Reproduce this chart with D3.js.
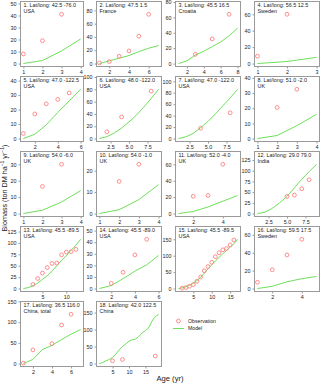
<!DOCTYPE html>
<html><head><meta charset="utf-8">
<script src="https://cdn.jsdelivr.net/npm/d3@7"></script>
<style>body{margin:0;background:#fff}svg{display:block}</style>
</head><body><svg id="c" width="320" height="384"></svg>
<script>
const panelTitles = [
 "1. Lat/long: 42.5 -76.0","2. Lat/long: 47.5 1.5","3. Lat/long: 45.5 16.5","4. Lat/long: 56.5 12.5",
 "5. Lat/long: 47.0 -122.5","6. Lat/long: 48.0 -122.0","7. Lat/long: 47.0 -122.0","8. Lat/long: 51.0 -2.0",
 "9. Lat/long: 54.0 -6.0","10. Lat/long: 54.0 -1.0","11. Lat/long: 52.0 -4.0","12. Lat/long: 29.0 79.0",
 "13. Lat/long: 45.5 -89.5","14. Lat/long: 45.5 -89.0","15. Lat/long: 45.5 -89.5","16. Lat/long: 59.5 17.5",
 "17. Lat/long: 36.5 116.0","18. Lat/long: 42.0 122.5"];
const panelRegions = ["USA","France","Croatia","Sweden","USA","USA","USA","UK","UK","UK","UK","India",
 "USA","USA","USA","Sweden","China, total","China"];
const xTickLabels = [
 ["1","2","3","4"],["2","4","6"],["2","4","6","8"],["1","2","3"],
 ["2","4","6"],["2.5","5.0","7.5"],["2.5","5.0","7.5"],["1","2","3","4"],
 ["1","2","3","4"],["1","2","3","4"],["2","4"],["2.5","5.0","7.5"],
 ["5","10"],["2","4","6"],["5","10","15"],["2","4"],
 ["2","4","6"],["5","10","15"]];
const yTickLabels = [
 ["0","10","20","30","40","50"],["0","20","40","60","80"],["0","20","40","60","80"],["0","20","40","60"],
 ["0","10","20","30","40"],["0","20","40","60","80","100"],["0","20","40","60","80","100"],["0","10","20","30","40"],
 ["0","10","20","30"],["0","10","20"],["0","20","40","60"],["0","25","50","75","100","125"],
 ["0","25","50","75","100","125"],["0","10","20","30","40","50"],["0","50","100","150"],["0","20","40","60"],
 ["0","50","100","150"],["0","50","100","150"]];
const observations = [
 [[1,8],[2,19],[3,41]],
 [[1,1],[2,3],[3,11],[4,19],[5,41],[6,74]],
 [[3,12],[5,32],[7,64]],
 [[1,9],[2,60]],
 [[1,3.5],[2,17],[3,24],[4,27],[5,31.5]],
 [[2,11],[4,35],[8,77]],
 [[4,18],[8,45]],
 [[2,20.5],[3,32.5]],
 [[2,16.5],[3,30]],
 [[2,15],[3,23]],
 [[2,21],[3,22],[4,60]],
 [[5,40],[6,43],[7,58],[8,79]],
 [[3,9],[4,22],[5,34],[6,46],[7,55],[8,56],[9,74],[10,80],[11,81],[12,86]],
 [[2,4.5],[3,14],[4,29],[5,42.5]],
 [[2,1],[3,3],[4,7],[5,12],[6,22],[7,35],[8,54],[9,67],[10,80],[11,97],[12,109],[13,118],[14,122],[15,133],[16,148]],
 [[1,7],[2,21],[3,37.5],[4,55]],
 [[1,1],[2,33],[4,48],[5,93],[6,119]],
 [[5,8],[8,12],[18,22]]];
const model = [
 [[1,0],[2,2.5],[3,10.5],[4,20.5]],
 [[1,0],[2,4],[3,8],[4,12],[5,18],[6,23],[7,27]],
 [[1,0],[2,3.5],[3,11],[4,16],[5,22],[6,28],[7,36],[8,46]],
 [[1,0],[2,2.5],[3,7.5]],
 [[1,0],[2,3],[3,9.5],[4,18],[5,26],[6,34]],
 [[1,0],[2,3],[3,9],[4,17],[5,27],[6,38],[7,51],[8,65],[9,80]],
 [[1,0],[2,3],[3,9],[4,19],[5,30],[6,43],[7,57],[8,71],[9,86]],
 [[1,0],[2,2],[3,8.5],[4,16]],
 [[1,0],[2,2],[3,7],[4,14]],
 [[1,0],[2,1.8],[3,6.5],[4,13.5]],
 [[1,0],[2,2.5],[3,8],[4,15],[5,22]],
 [[1,0],[2,3],[3,12],[4,25],[5,40],[6,60],[7,80],[8,98],[9,115]],
 [[1,0],[2,2],[3,6],[4,12],[5,20],[6,28],[7,38],[8,50],[9,62],[10,72],[11,84],[12,95],[13,108]],
 [[1,0],[2,2.6],[3,8.5],[4,15],[5,20.5],[6,28.5]],
 [[1,0],[2,2],[3,5],[4,10],[5,16],[6,24],[7,34],[8,47],[9,60],[10,72],[11,84],[12,95],[13,106],[14,116],[15,126],[16,136],[17,150]],
 [[1,0],[2,2.5],[3,7.5],[4,11],[5,13.5]],
 [[1,0],[2,10],[3,34],[4,44],[5,58],[6,71],[7,82]],
 [[1,0],[2,3],[3,8],[4,12],[5,18],[6,28],[7,40],[8,50],[9,57],[10,66],[11,70],[12,72],[13,80],[14,90],[15,97],[16,105],[17,125],[18,138],[19,145]]];

const colLeft=[20.5,96.5,175.5,254.5], colRight=[83.5,161.5,240.5,319.5];
const rowTop=[1.5,76.5,151.5,226.5,301.5], panelH=65;
const FONT="'Liberation Sans', Arial, Helvetica, sans-serif";
const OBS="#ff8080", MOD="#6ee05a", FRAME="#9a9a9a", TXT="#222";
const svg=d3.select("#c").attr("font-family",FONT);

panelTitles.forEach((title,i)=>{
  const r=Math.floor(i/4), c=i%4;
  const L=colLeft[c], R=colRight[c], T=rowTop[r], B=T+panelH;
  const allX=observations[i].map(d=>d[0]).concat(model[i].map(d=>d[0]));
  const allY=observations[i].map(d=>d[1]).concat(model[i].map(d=>d[1]));
  const x0=d3.min(allX), x1=d3.max(allX), px=(x1-x0)*0.05;
  const yt=1.2*d3.max(allY), py=yt*0.05;
  const x=d3.scaleLinear().domain([x0-px,x1+px]).range([L,R]);
  const y=d3.scaleLinear().domain([-py,yt+py]).range([B,T]);
  const g=svg.append("g");
  const xt=xTickLabels[i], ytl=yTickLabels[i];
  const ax=g.append("g").attr("transform",`translate(0,${B})`)
    .call(d3.axisBottom(x).tickValues(xt.map(Number)).tickFormat((d,k)=>xt[k]).tickSize(2).tickPadding(1.2).tickSizeOuter(0));
  const ay=g.append("g").attr("transform",`translate(${L},0)`)
    .call(d3.axisLeft(y).tickValues(ytl.map(Number)).tickFormat((d,k)=>ytl[k]).tickSize(2).tickPadding(2).tickSizeOuter(0));
  [ax,ay].forEach(a=>{
    a.select(".domain").remove();
    a.selectAll("line").attr("stroke",FRAME);
    a.selectAll("text").attr("fill",TXT).attr("font-size",5.4).attr("font-family",FONT);
  });
  g.append("rect").attr("x",L).attr("y",T).attr("width",R-L).attr("height",B-T)
    .attr("fill","none").attr("stroke",FRAME).attr("stroke-width",1);
  g.append("path").datum(model[i])
    .attr("d",d3.line().x(d=>x(d[0])).y(d=>y(d[1])))
    .attr("fill","none").attr("stroke",MOD).attr("stroke-width",1);
  g.selectAll("circle.o").data(observations[i]).join("circle").attr("class","o")
    .attr("cx",d=>x(d[0])).attr("cy",d=>y(d[1])).attr("r",1.9)
    .attr("fill","none").attr("stroke",OBS).attr("stroke-width",0.9);
  g.append("text").attr("x",L+3).attr("y",T+5.3).attr("font-size",5.4).attr("fill",TXT).text(title);
  g.append("text").attr("x",L+3).attr("y",T+11.3).attr("font-size",5.4).attr("fill",TXT).text(panelRegions[i]);
});

// legend
const lg=svg.append("g");
lg.append("circle").attr("cx",178.5).attr("cy",321).attr("r",1.9).attr("fill","none").attr("stroke",OBS).attr("stroke-width",0.9);
lg.append("text").attr("x",188).attr("y",322.8).attr("font-size",5.2).attr("fill",TXT).text("Observation");
lg.append("line").attr("x1",173).attr("x2",184).attr("y1",328.5).attr("y2",328.5).attr("stroke",MOD).attr("stroke-width",1);
lg.append("text").attr("x",188).attr("y",330.3).attr("font-size",5.2).attr("fill",TXT).text("Model");

// axis titles
svg.append("text").attr("x",170).attr("y",380.5).attr("text-anchor","middle").attr("font-size",7.6).attr("fill",TXT).text("Age (yr)");
const yt=svg.append("text").attr("transform","translate(6.5,188) rotate(-90)").attr("text-anchor","middle").attr("font-size",7.2).attr("fill",TXT);
yt.append("tspan").text("Biomass (ton DM ha");
yt.append("tspan").attr("dy",-2.6).attr("font-size",5).text("−1");
yt.append("tspan").attr("dy",2.6).text(" yr");
yt.append("tspan").attr("dy",-2.6).attr("font-size",5).text("−1");
yt.append("tspan").attr("dy",2.6).text(")");
</script></body></html>
